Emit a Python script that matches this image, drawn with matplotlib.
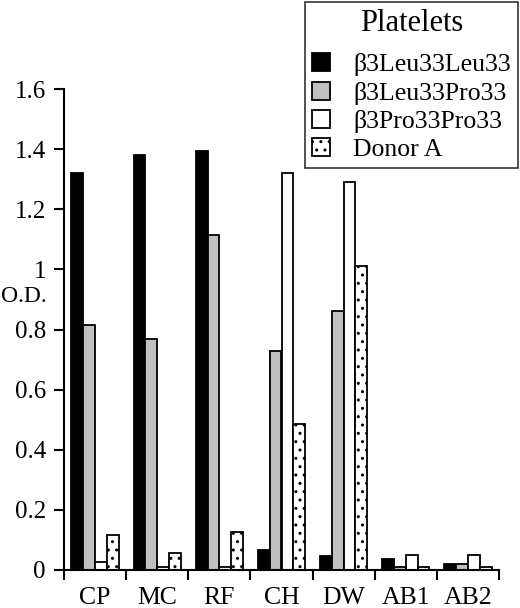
import matplotlib
matplotlib.use("Agg")
import matplotlib.pyplot as plt
import numpy as np
from matplotlib.ticker import FixedLocator, FixedFormatter

plt.rcParams['font.family'] = ['Liberation Serif', 'DejaVu Serif']
plt.rcParams['hatch.linewidth'] = 1.0

categories = ["CP", "MC", "RF", "CH", "DW", "AB1", "AB2"]
series_names = ["β3Leu33Leu33", "β3Leu33Pro33", "β3Pro33Pro33", "Donor A"]
leu_leu = [1.32, 1.38, 1.395, 0.065, 0.045, 0.035, 0.02]
leu_pro = [0.815, 0.77, 1.115, 0.73, 0.86, 0.01, 0.02]
pro_pro = [0.025, 0.01, 0.01, 1.32, 1.29, 0.05, 0.05]
donor_a = [0.115, 0.055, 0.125, 0.485, 1.01, 0.01, 0.01]
yticks = [0, 0.2, 0.4, 0.6, 0.8, 1.0, 1.2, 1.4, 1.6]
ytick_labels = ["0", "0.2", "0.4", "0.6", "0.8", "1", "1.2", "1.4", "1.6"]

series = [leu_leu, leu_pro, pro_pro, donor_a]
faces = ["black", "#c0c0c0", "white", "white"]
hatches = [None, None, None, ".."]

fig = plt.figure(figsize=(5.2, 6.08), dpi=100)
ax = fig.add_axes([64/520, 1-570/608, (499-64)/520, (570-89)/608])

n = len(categories)
x = np.arange(n) + 0.5
w = 0.19
for k, (vals, fc, h, name) in enumerate(zip(series, faces, hatches, series_names)):
    ax.bar(x + (k-1.5)*w, vals, width=w, color=fc, edgecolor="black",
           linewidth=1.3, hatch=h, label=name)

ax.set_xlim(0, n)
ax.set_ylim(0, 1.6)
for s in ["top", "right"]:
    ax.spines[s].set_visible(False)
ax.spines["left"].set_linewidth(1.5)
ax.spines["bottom"].set_linewidth(1.5)

ax.set_yticks(yticks)
ax.set_yticklabels(ytick_labels, fontsize=18)
ax.tick_params(axis='y', direction='out', length=7, width=1.5, pad=6)

ax.xaxis.set_major_locator(FixedLocator(np.arange(n+1)))
ax.xaxis.set_major_formatter(FixedFormatter([""]*(n+1)))
ax.xaxis.set_minor_locator(FixedLocator(x))
ax.xaxis.set_minor_formatter(FixedFormatter(categories))
ax.tick_params(axis='x', which='major', direction='out', length=7, width=1.5)
ax.tick_params(axis='x', which='minor', length=0, pad=12, labelsize=18.5)

fig.text(1/520, 1-297/608, "O.D.", fontsize=17, va='center', ha='left')

leg = ax.legend(loc='upper right', bbox_to_anchor=(518/520, 1-2/608),
                bbox_transform=fig.transFigure, borderaxespad=0,
                title="Platelets", fontsize=18.5, title_fontsize=22,
                frameon=True, fancybox=False, edgecolor='black',
                handlelength=0.7, handleheight=0.7, handletextpad=0.9,
                labelspacing=0.2, borderpad=0.28)
leg._legend_box.sep = 11
leg.get_frame().set_linewidth(1.2)

fig.savefig("out.png", dpi=100)
